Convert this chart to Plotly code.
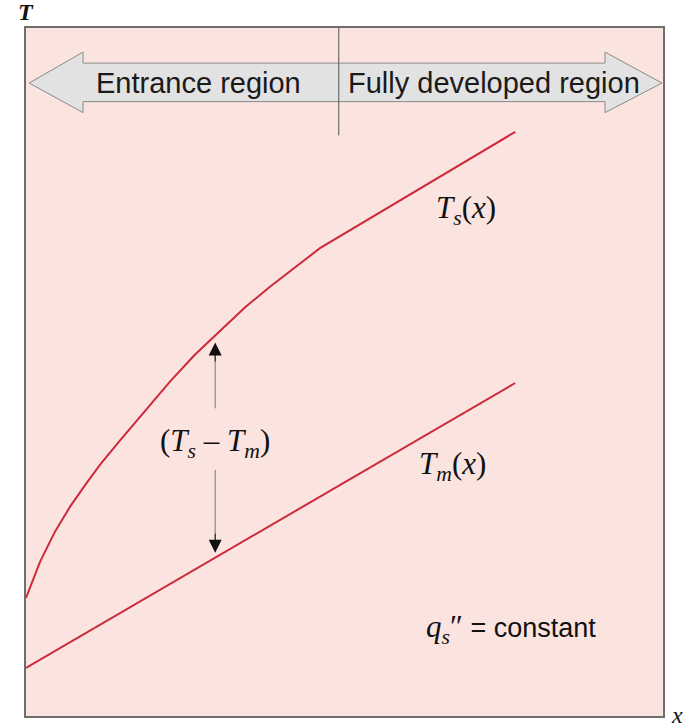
import numpy as np
import plotly.graph_objects as go

# Axial position along the tube (arbitrary length units)
x_surface = [0.0, 0.22, 0.455, 0.69, 0.93, 1.16, 1.48, 1.87, 2.26, 2.65, 3.05,
             3.44, 3.83, 4.22, 4.615, 7.68]
# Surface temperature T_s(x): rises steeply in the entrance region, then linearly
t_surface = [1.715, 2.24, 2.68, 3.04, 3.36, 3.65, 4.01, 4.44, 4.86, 5.25, 5.60,
             5.94, 6.24, 6.52, 6.80, 8.49]

# Mean fluid temperature T_m(x): linear for constant heat flux
x_mean = [0.0, 7.68]
t_mean = [0.70, 4.84]

# Start of the fully developed region
x_fd = 4.91
# Position of the (T_s - T_m) marker
x_diff = 2.97

RED = "#cc2a3c"
PINK = "#fbe3df"
SERIF = "Liberation Serif"
SANS = "Liberation Sans"

fig = go.Figure()
fig.add_trace(go.Scatter(x=x_surface, y=t_surface, mode="lines",
                         line=dict(color=RED, width=2),
                         hoverinfo="skip", showlegend=False))
fig.add_trace(go.Scatter(x=x_mean, y=t_mean, mode="lines",
                         line=dict(color=RED, width=2),
                         hoverinfo="skip", showlegend=False))

# Double-headed band arrow marking the two regions
tipL, baseL, baseR, tipR = 0.05, 0.895, 9.09, 9.985
yh_top, ys_top, y_mid, ys_bot, yh_bot = 9.65, 9.49, 9.20, 8.93, 8.77
band = (f"M {tipL},{y_mid} L {baseL},{yh_top} L {baseL},{ys_top} L {baseR},{ys_top} "
        f"L {baseR},{yh_top} L {tipR},{y_mid} L {baseR},{yh_bot} L {baseR},{ys_bot} "
        f"L {baseL},{ys_bot} L {baseL},{yh_bot} Z")
fig.add_shape(type="path", path=band, xref="x", yref="y",
              fillcolor="#e2e2e2", line=dict(color="#8a8a8a", width=1))
fig.add_shape(type="line", xref="x", yref="y", x0=x_fd, x1=x_fd, y0=10, y1=8.44,
              line=dict(color="#555555", width=1))

annotations = [
    dict(x=2.71, y=9.20, text="Entrance region", font=dict(family=SANS, size=29, color="#1a1a1a")),
    dict(x=7.35, y=9.20, text="Fully developed region", font=dict(family=SANS, size=29, color="#1a1a1a")),
    dict(x=6.90, y=7.35, text="<i>T</i><sub><i>s</i></sub>(<i>x</i>)",
         font=dict(family=SERIF, size=31, color="#111111")),
    dict(x=6.70, y=3.63, text="<i>T</i><sub><i>m</i></sub>(<i>x</i>)",
         font=dict(family=SERIF, size=31, color="#111111")),
    dict(x=x_diff, y=3.97, text="(<i>T</i><sub><i>s</i></sub> \u2013 <i>T</i><sub><i>m</i></sub>)",
         font=dict(family=SERIF, size=31, color="#111111")),
    dict(x=7.62, y=1.27,
         text="<i>q</i><sub><i>s</i></sub><span style='font-family:Liberation Serif'>\u2033</span>"
              "<span style='font-family:Liberation Sans;font-size:27px'> = constant</span>",
         font=dict(family=SERIF, size=31, color="#111111")),
]
for a in annotations:
    a.update(xref="x", yref="y", showarrow=False, xanchor="center", yanchor="middle")
    fig.add_annotation(**a)

# Axis letters at the corners of the frame
fig.add_annotation(x=0.0, y=1.0, xref="paper", yref="paper", text="<b><i>T</i></b>",
                   showarrow=False, xanchor="center", yanchor="bottom", yshift=1,
                   font=dict(family=SERIF, size=24, color="#111111"))
fig.add_annotation(x=1.0, y=0.0, xref="paper", yref="paper", text="<i>x</i>",
                   showarrow=False, xanchor="left", yanchor="middle", xshift=6, yshift=1,
                   font=dict(family=SERIF, size=24, color="#111111"))

# (T_s - T_m) difference arrows, tips just short of each curve
ts_at = float(np.interp(x_diff, x_surface, t_surface))
tm_at = float(np.interp(x_diff, x_mean, t_mean))
for tip, tail in [(ts_at - 0.10, 4.45), (tm_at + 0.07, 3.60)]:
    direction = 1 if tip > tail else -1
    fig.add_annotation(x=x_diff, y=tip - direction * 0.18, ax=x_diff, ay=tail,
                       xref="x", yref="y", axref="x", ayref="y", text="",
                       showarrow=True, arrowhead=0, arrowwidth=1, arrowcolor="#777777")
    fig.add_annotation(x=x_diff, y=tip, ax=x_diff, ay=tip - direction * 0.3,
                       xref="x", yref="y", axref="x", ayref="y", text="",
                       showarrow=True, arrowhead=2, arrowsize=2.6, arrowwidth=1,
                       arrowcolor="#111111")

axis_style = dict(range=[0, 10], showgrid=False, zeroline=False, showticklabels=False,
                  ticks="", showline=True, mirror=True, linecolor="#6e6e6e", linewidth=2,
                  fixedrange=True)
fig.update_xaxes(**axis_style)
fig.update_yaxes(**axis_style)
fig.update_layout(width=689, height=723, margin=dict(l=26, r=26, t=28, b=7),
                  plot_bgcolor=PINK, paper_bgcolor="white", showlegend=False)

fig.write_html("out.html")
